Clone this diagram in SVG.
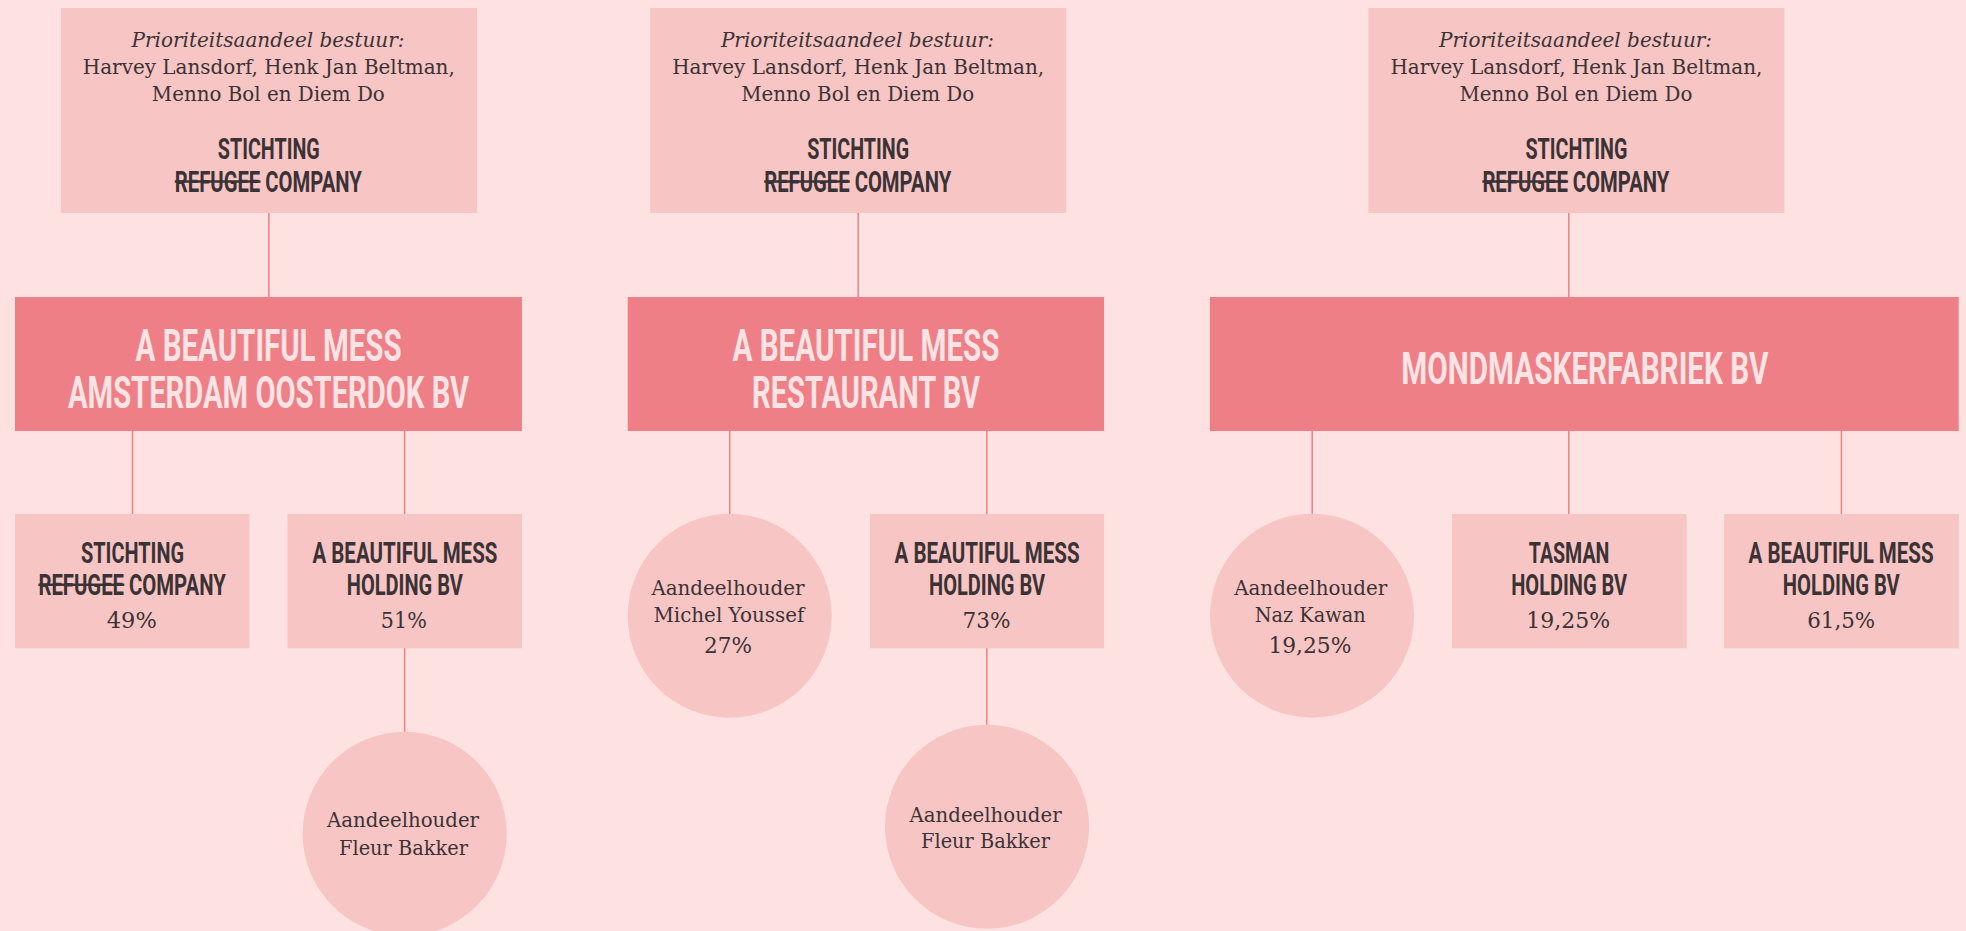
<svg xmlns="http://www.w3.org/2000/svg" width="1966" height="931" viewBox="0 0 1966 931">
<style>
.bg{fill:#fde2e1}
.lt{fill:#f7c5c3}
.mn{fill:#ef7f87}
.ln{stroke:#ef7f87;stroke-width:1.5;fill:none}
.strike{stroke:#3b3236;stroke-width:2.5}
.sr{font-family:"DejaVu Serif","Liberation Serif",serif;font-size:21px;fill:#3b3236}
.it{font-style:italic}
.cs{font-family:"DejaVu Serif","Liberation Serif",serif;font-size:19.5px;fill:#3b3236}
.pc{font-family:"DejaVu Serif","Liberation Serif",serif;font-size:22px;fill:#3b3236}
.hd{font-family:Roboto,"Liberation Sans",sans-serif;font-weight:700;font-size:29px;fill:#3b3236;text-anchor:middle}
.big{font-family:Roboto,"Liberation Sans",sans-serif;font-weight:700;font-size:45px;fill:#fde3e3;text-anchor:middle}
</style>
<rect class="bg" x="0" y="0" width="1966" height="931"/>

<g id="connectors">
<line class="ln" x1="268.9" y1="212" x2="268.9" y2="297"/>
<line class="ln" x1="858.2" y1="212" x2="858.2" y2="297"/>
<line class="ln" x1="1568.8" y1="212" x2="1568.8" y2="297"/>
<line class="ln" x1="132.5" y1="430" x2="132.5" y2="514"/>
<line class="ln" x1="404.6" y1="430" x2="404.6" y2="514"/>
<line class="ln" x1="404.6" y1="648" x2="404.6" y2="732"/>
<line class="ln" x1="729.7" y1="430" x2="729.7" y2="514"/>
<line class="ln" x1="986.8" y1="430" x2="986.8" y2="514"/>
<line class="ln" x1="986.8" y1="648" x2="986.8" y2="725"/>
<line class="ln" x1="1312.2" y1="430" x2="1312.2" y2="514"/>
<line class="ln" x1="1568.8" y1="430" x2="1568.8" y2="514"/>
<line class="ln" x1="1841.4" y1="430" x2="1841.4" y2="514"/>
</g>

<g id="top1">
<rect class="lt" x="61" y="8" width="416" height="205"/>
<text class="sr it" x="131.5" y="46.7" textLength="273" lengthAdjust="spacingAndGlyphs">Prioriteitsaandeel bestuur:</text>
<text class="sr" x="82.8" y="74" textLength="372" lengthAdjust="spacingAndGlyphs">Harvey Lansdorf, Henk Jan Beltman,</text>
<text class="sr" x="151.8" y="100.7" textLength="233" lengthAdjust="spacingAndGlyphs">Menno Bol en Diem Do</text>
<text class="hd" x="268.8" y="159.3" textLength="102" lengthAdjust="spacingAndGlyphs">STICHTING</text>
<text class="hd" x="268.3" y="191.7" textLength="187" lengthAdjust="spacingAndGlyphs">REFUGEE COMPANY</text>
<line class="strike" x1="174.8" y1="181.5" x2="260.5" y2="181.5"/>
</g>

<g id="top2">
<rect class="lt" x="650.2" y="8" width="416" height="205"/>
<text class="sr it" x="720.9" y="46.7" textLength="273" lengthAdjust="spacingAndGlyphs">Prioriteitsaandeel bestuur:</text>
<text class="sr" x="672.2" y="74" textLength="372" lengthAdjust="spacingAndGlyphs">Harvey Lansdorf, Henk Jan Beltman,</text>
<text class="sr" x="741.2" y="100.7" textLength="233" lengthAdjust="spacingAndGlyphs">Menno Bol en Diem Do</text>
<text class="hd" x="858.2" y="159.3" textLength="102" lengthAdjust="spacingAndGlyphs">STICHTING</text>
<text class="hd" x="857.7" y="191.7" textLength="187" lengthAdjust="spacingAndGlyphs">REFUGEE COMPANY</text>
<line class="strike" x1="764.2" y1="181.5" x2="849.9" y2="181.5"/>
</g>

<g id="top3">
<rect class="lt" x="1368.4" y="8" width="416" height="205"/>
<text class="sr it" x="1439.1" y="46.7" textLength="273" lengthAdjust="spacingAndGlyphs">Prioriteitsaandeel bestuur:</text>
<text class="sr" x="1390.4" y="74" textLength="372" lengthAdjust="spacingAndGlyphs">Harvey Lansdorf, Henk Jan Beltman,</text>
<text class="sr" x="1459.4" y="100.7" textLength="233" lengthAdjust="spacingAndGlyphs">Menno Bol en Diem Do</text>
<text class="hd" x="1576.4" y="159.3" textLength="102" lengthAdjust="spacingAndGlyphs">STICHTING</text>
<text class="hd" x="1575.9" y="191.7" textLength="187" lengthAdjust="spacingAndGlyphs">REFUGEE COMPANY</text>
<line class="strike" x1="1482.4" y1="181.5" x2="1568.1" y2="181.5"/>
</g>

<g id="main1">
<rect class="mn" x="15" y="297" width="507" height="134"/>
<text class="big" x="268.6" y="360.7" textLength="266" lengthAdjust="spacingAndGlyphs">A BEAUTIFUL MESS</text>
<text class="big" x="268.5" y="408.3" textLength="401" lengthAdjust="spacingAndGlyphs">AMSTERDAM OOSTERDOK BV</text>
</g>

<g id="main2">
<rect class="mn" x="627.7" y="297" width="476.4" height="134"/>
<text class="big" x="866" y="360.7" textLength="267" lengthAdjust="spacingAndGlyphs">A BEAUTIFUL MESS</text>
<text class="big" x="866" y="408.3" textLength="228" lengthAdjust="spacingAndGlyphs">RESTAURANT BV</text>
</g>

<g id="main3">
<rect class="mn" x="1209.8" y="297" width="748.9" height="134"/>
<text class="big" x="1584.8" y="384" textLength="367" lengthAdjust="spacingAndGlyphs">MONDMASKERFABRIEK BV</text>
</g>

<g id="stichting-49">
<rect class="lt" x="15" y="514" width="234.5" height="134.3"/>
<text class="hd" x="132.5" y="563.3" textLength="103" lengthAdjust="spacingAndGlyphs">STICHTING</text>
<text class="hd" x="132.1" y="595" textLength="187.4" lengthAdjust="spacingAndGlyphs">REFUGEE COMPANY</text>
<line class="strike" x1="38.4" y1="584.8" x2="124.3" y2="584.8"/>
<text class="pc" x="106.8" y="628.3" textLength="50" lengthAdjust="spacingAndGlyphs">49%</text>
</g>

<g id="holding-51">
<rect class="lt" x="287.5" y="514" width="234.5" height="134.3"/>
<text class="hd" x="404.9" y="563.3" textLength="185" lengthAdjust="spacingAndGlyphs">A BEAUTIFUL MESS</text>
<text class="hd" x="404.8" y="595" textLength="116" lengthAdjust="spacingAndGlyphs">HOLDING BV</text>
<text class="pc" x="380.8" y="628.3" textLength="46" lengthAdjust="spacingAndGlyphs">51%</text>
</g>

<g id="fleur1">
<circle class="lt" cx="404.7" cy="833.7" r="102"/>
<text class="cs" x="327" y="827.3" textLength="152" lengthAdjust="spacingAndGlyphs">Aandeelhouder</text>
<text class="cs" x="339" y="855" textLength="129" lengthAdjust="spacingAndGlyphs">Fleur Bakker</text>
</g>

<g id="michel">
<circle class="lt" cx="729.7" cy="615.8" r="102"/>
<text class="cs" x="651.4" y="595" textLength="153" lengthAdjust="spacingAndGlyphs">Aandeelhouder</text>
<text class="cs" x="653.4" y="621.7" textLength="151" lengthAdjust="spacingAndGlyphs">Michel Youssef</text>
<text class="pc" x="704" y="653.3" textLength="48" lengthAdjust="spacingAndGlyphs">27%</text>
</g>

<g id="holding-73">
<rect class="lt" x="870" y="514" width="234.1" height="134.3"/>
<text class="hd" x="987.1" y="563.3" textLength="185" lengthAdjust="spacingAndGlyphs">A BEAUTIFUL MESS</text>
<text class="hd" x="987" y="595" textLength="116" lengthAdjust="spacingAndGlyphs">HOLDING BV</text>
<text class="pc" x="962.6" y="628.3" textLength="48" lengthAdjust="spacingAndGlyphs">73%</text>
</g>

<g id="fleur2">
<circle class="lt" cx="987" cy="826.7" r="102"/>
<text class="cs" x="909.6" y="821.7" textLength="152" lengthAdjust="spacingAndGlyphs">Aandeelhouder</text>
<text class="cs" x="921" y="848.3" textLength="129" lengthAdjust="spacingAndGlyphs">Fleur Bakker</text>
</g>

<g id="naz">
<circle class="lt" cx="1312" cy="615.8" r="102"/>
<text class="cs" x="1234.2" y="595" textLength="153" lengthAdjust="spacingAndGlyphs">Aandeelhouder</text>
<text class="cs" x="1254.7" y="621.7" textLength="111" lengthAdjust="spacingAndGlyphs">Naz Kawan</text>
<text class="pc" x="1268.4" y="653.3" textLength="83" lengthAdjust="spacingAndGlyphs">19,25%</text>
</g>

<g id="tasman">
<rect class="lt" x="1452" y="514" width="234.6" height="134.3"/>
<text class="hd" x="1569.1" y="563.3" textLength="80.6" lengthAdjust="spacingAndGlyphs">TASMAN</text>
<text class="hd" x="1569.2" y="595" textLength="116" lengthAdjust="spacingAndGlyphs">HOLDING BV</text>
<text class="pc" x="1526.3" y="628.3" textLength="84" lengthAdjust="spacingAndGlyphs">19,25%</text>
</g>

<g id="holding-615">
<rect class="lt" x="1724.2" y="514" width="234.5" height="134.3"/>
<text class="hd" x="1841.1" y="563.3" textLength="185" lengthAdjust="spacingAndGlyphs">A BEAUTIFUL MESS</text>
<text class="hd" x="1841.3" y="595" textLength="117" lengthAdjust="spacingAndGlyphs">HOLDING BV</text>
<text class="pc" x="1807.2" y="628.3" textLength="68" lengthAdjust="spacingAndGlyphs">61,5%</text>
</g>
</svg>
